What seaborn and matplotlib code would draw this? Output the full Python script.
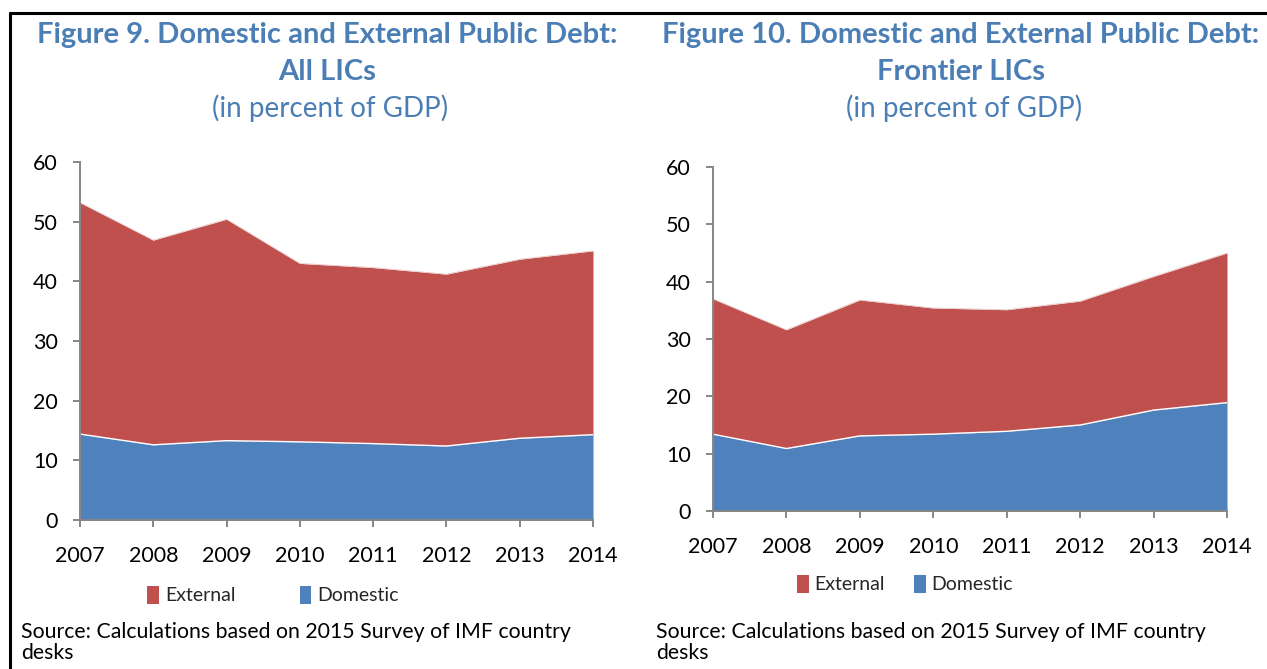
import matplotlib
matplotlib.use("Agg")
import matplotlib.pyplot as plt
from matplotlib.lines import Line2D
from matplotlib.patches import Patch
import seaborn as sns
import pandas as pd

years = [2007, 2008, 2009, 2010, 2011, 2012, 2013, 2014]

# Public debt, percent of GDP (total = domestic + external)
all_lics_domestic = [14.4, 12.6, 13.3, 13.1, 12.8, 12.4, 13.7, 14.3]
all_lics_total = [53.2, 46.9, 50.4, 43.0, 42.3, 41.2, 43.7, 45.1]

frontier_domestic = [13.4, 10.9, 13.1, 13.4, 13.9, 15.0, 17.6, 18.9]
frontier_total = [37.0, 31.6, 36.8, 35.4, 35.1, 36.6, 40.9, 45.0]

titles = [
    ("Figure 9. Domestic and External Public Debt:", "All LICs"),
    ("Figure 10. Domestic and External Public Debt:", "Frontier LICs"),
]
subtitle = "(in percent of GDP)"
source_text = "Source: Calculations based on 2015 Survey of IMF country\ndesks"
series_names = ["External", "Domestic"]

RED = "#C0504D"
BLUE = "#4F81BD"
TITLE_BLUE = "#4A7EB5"
AXIS_GREY = "#868686"
FONT = ["Lato", "DejaVu Sans"]

sns.set_theme(style="white")
plt.rcParams["font.family"] = FONT

W, H = 1267, 669
fig = plt.figure(figsize=(W / 100, H / 100), dpi=100)


def fx(px):
    return px / W


def fy(py):
    return 1 - py / H


def draw_panel(rect, domestic, total):
    ax = fig.add_axes(rect)
    df = pd.DataFrame({"year": years, "domestic": domestic, "total": total})
    ax.fill_between(df["year"], df["domestic"], df["total"], color=RED, lw=0)
    ax.fill_between(df["year"], 0, df["domestic"], color=BLUE, lw=0)
    sns.lineplot(data=df, x="year", y="domestic", ax=ax, color="white", lw=1.0)
    sns.lineplot(data=df, x="year", y="total", ax=ax, color="#e8c8c7", lw=0.6)
    ax.set_xlim(years[0], years[-1])
    ax.set_ylim(0, 60)
    ax.set_xticks(years)
    ax.set_xticklabels([str(y) for y in years])
    ax.set_yticks(range(0, 61, 10))
    ax.set_xlabel("")
    ax.set_ylabel("")
    sns.despine(ax=ax, top=True, right=True)
    for side in ("left", "bottom"):
        ax.spines[side].set_color(AXIS_GREY)
        ax.spines[side].set_linewidth(1.4)
        ax.spines[side].set_zorder(5)
    ax.tick_params(axis="both", which="both", direction="out", length=5,
                   width=1.4, color=AXIS_GREY, labelsize=15.5,
                   labelcolor="black", left=True, bottom=True)
    ax.tick_params(axis="y", pad=11)
    ax.tick_params(axis="x", pad=14)
    return ax


ax1 = draw_panel([fx(80), fy(520), fx(593) - fx(80), fy(162) - fy(520)],
                 all_lics_domestic, all_lics_total)
ax2 = draw_panel([fx(713), fy(511), fx(1227) - fx(713), fy(167) - fy(511)],
                 frontier_domestic, frontier_total)

# Titles
for (line1, line2), cx in zip(titles, [327, 961]):
    fig.text(fx(cx), fy(35), line1, ha="center", va="center", fontsize=21,
             fontweight="bold", color=TITLE_BLUE)
    fig.text(fx(cx), fy(72), line2, ha="center", va="center", fontsize=21,
             fontweight="bold", color=TITLE_BLUE)
    fig.text(fx(cx + 3), fy(108), subtitle, ha="center", va="center",
             fontsize=20, color=TITLE_BLUE)

# Legends
handles = [Patch(facecolor=RED, edgecolor="none"),
           Patch(facecolor=BLUE, edgecolor="none")]
for cx, cy, gap in [(273, 595, 3.3), (905, 584, 1.5)]:
    fig.legend(handles, series_names, loc="center",
               bbox_to_anchor=(fx(cx), fy(cy)), ncol=2, frameon=False,
               fontsize=14, handlelength=0.6, handleheight=1.1,
               handletextpad=0.3, columnspacing=gap)

# Source notes
for x0 in [21, 656]:
    fig.text(fx(x0), fy(622), source_text, ha="left", va="top",
             fontsize=15.3, color="black", linespacing=1.08)

# Frame lines along top and left
fig.add_artist(Line2D([fx(10), 1.0], [fy(13), fy(13)], color="black", lw=2.2))
fig.add_artist(Line2D([fx(10), fx(10)], [fy(13), 0.0], color="black", lw=2.2))

fig.savefig("out.png", dpi=100, facecolor="white")
